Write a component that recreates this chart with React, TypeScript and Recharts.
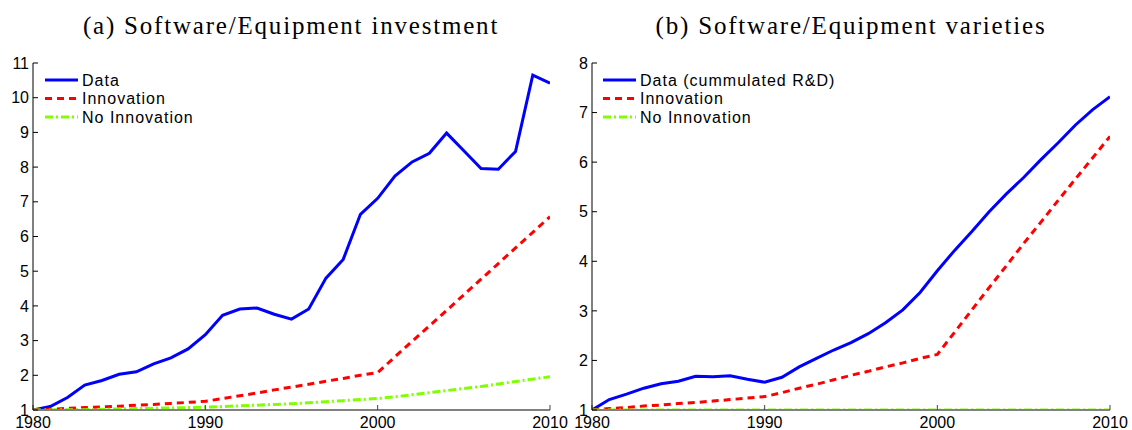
import React from 'react';
import { LineChart, Line, XAxis, YAxis, Legend } from 'recharts';

const years = [
  1980, 1981, 1982, 1983, 1984, 1985, 1986, 1987, 1988, 1989, 1990,
  1991, 1992, 1993, 1994, 1995, 1996, 1997, 1998, 1999, 2000,
  2001, 2002, 2003, 2004, 2005, 2006, 2007, 2008, 2009, 2010,
];

// Panel (a): Software/Equipment investment
const investData = [
  1.0, 1.1, 1.36, 1.72, 1.85, 2.03, 2.1, 2.33, 2.5, 2.76, 3.17,
  3.73, 3.91, 3.94, 3.76, 3.62, 3.91, 4.8, 5.34, 6.64, 7.1,
  7.74, 8.15, 8.4, 8.98, 8.47, 7.96, 7.94, 8.45, 10.65, 10.42,
];
const investInnovation = [
  1.0, 1.02, 1.05, 1.07, 1.09, 1.11, 1.14, 1.16, 1.19, 1.22, 1.25,
  1.33, 1.41, 1.49, 1.58, 1.66, 1.74, 1.83, 1.91, 2.0, 2.08,
  2.53, 2.98, 3.42, 3.87, 4.32, 4.77, 5.22, 5.67, 6.12, 6.57,
];
const investNoInnovation = [
  1.0, 1.0, 1.01, 1.01, 1.02, 1.03, 1.04, 1.05, 1.06, 1.07, 1.08,
  1.1, 1.12, 1.14, 1.16, 1.18, 1.21, 1.24, 1.27, 1.3, 1.33,
  1.38, 1.44, 1.5, 1.56, 1.62, 1.68, 1.75, 1.82, 1.89, 1.96,
];

// Panel (b): Software/Equipment varieties
const varietyData = [
  1.0, 1.21, 1.32, 1.44, 1.53, 1.58, 1.68, 1.67, 1.69, 1.62, 1.56,
  1.66, 1.87, 2.04, 2.21, 2.36, 2.54, 2.76, 3.02, 3.37, 3.81,
  4.22, 4.6, 5.0, 5.36, 5.69, 6.05, 6.39, 6.75, 7.06, 7.32,
];
const varietyInnovation = [
  1.0, 1.03, 1.05, 1.08, 1.1, 1.13, 1.15, 1.18, 1.21, 1.24, 1.27,
  1.35, 1.44, 1.52, 1.61, 1.7, 1.78, 1.87, 1.95, 2.04, 2.12,
  2.57, 3.02, 3.47, 3.91, 4.36, 4.79, 5.23, 5.66, 6.09, 6.52,
];
const varietyNoInnovation = [
  1.0, 1.0, 1.0, 1.0, 1.0, 1.0, 1.0, 1.0, 1.0, 1.0, 1.0,
  1.0, 1.0, 1.0, 1.0, 1.0, 1.0, 1.0, 1.0, 1.0, 1.0,
  1.0, 1.0, 1.0, 1.0, 1.0, 1.0, 1.0, 1.0, 1.0, 1.0,
];

const xTicks = [1980, 1990, 2000, 2010];
const yTicksA = [1, 2, 3, 4, 5, 6, 7, 8, 9, 10, 11];
const yTicksB = [1, 2, 3, 4, 5, 6, 7, 8];

const titleA = '(a) Software/Equipment investment';
const titleB = '(b) Software/Equipment varieties';
const labelsA = ['Data', 'Innovation', 'No Innovation'];
const labelsB = ['Data (cummulated R&D)', 'Innovation', 'No Innovation'];

const seriesKeys = ['data', 'innovation', 'noInnovation'];
const seriesColors = ['#0000ff', '#ff0000', '#7fff00'];
const seriesDashes = [undefined, '7 5', '8 3 2 3'];

const rowsA = years.map((y, i) => ({
  year: y,
  data: investData[i],
  innovation: investInnovation[i],
  noInnovation: investNoInnovation[i],
}));
const rowsB = years.map((y, i) => ({
  year: y,
  data: varietyData[i],
  innovation: varietyInnovation[i],
  noInnovation: varietyNoInnovation[i],
}));

const tickFont = { fill: '#000', fontSize: 16, fontFamily: 'Liberation Sans, Arial, sans-serif' };

const makeLegend = (labels: string[]) => () => (
  <svg width={240} height={60} style={{ display: 'block', overflow: 'visible' }}>
    {labels.map((l, i) => (
      <g key={l}>
        <line
          x1={5}
          x2={38}
          y1={10 + i * 18.5}
          y2={10 + i * 18.5}
          stroke={seriesColors[i]}
          strokeWidth={3}
          strokeDasharray={seriesDashes[i]}
        />
        <text
          x={42}
          y={10 + i * 18.5}
          dy="0.36em"
          fontFamily="Liberation Sans, Arial, sans-serif"
          fontSize={16}
          letterSpacing={1}
          fill="#000"
        >
          {l}
        </text>
      </g>
    ))}
  </svg>
);

type PanelProps = {
  rows: any[];
  width: number;
  yMax: number;
  yTicks: number[];
  labels: string[];
  margin: { top: number; right: number; bottom: number; left: number };
  yWidth: number;
  legendLeft: number;
};

const Panel = ({ rows, width, yMax, yTicks, labels, margin, yWidth, legendLeft }: PanelProps) => (
  <LineChart width={width} height={430} data={rows} margin={margin}>
    <XAxis
      dataKey="year"
      type="number"
      domain={[1980, 2010]}
      ticks={xTicks}
      allowDataOverflow
      height={20}
      tickSize={-5}
      tickMargin={12}
      axisLine={{ stroke: '#808080', strokeWidth: 2 }}
      tickLine={{ stroke: '#444' }}
      tick={tickFont}
      interval={0}
    />
    <YAxis
      type="number"
      domain={[1, yMax]}
      ticks={yTicks}
      allowDataOverflow
      width={yWidth}
      tickSize={-5}
      tickMargin={9}
      axisLine={{ stroke: '#000' }}
      tickLine={{ stroke: '#000' }}
      tick={tickFont}
      interval={0}
    />
    <Legend
      layout="vertical"
      align="center"
      verticalAlign="middle"
      content={makeLegend(labels)}
      wrapperStyle={{ position: 'absolute', left: legendLeft, top: 70, width: 240, height: 60 }}
    />
    {seriesKeys.map((k, i) => (
      <Line
        key={k}
        type="linear"
        dataKey={k}
        name={labels[i]}
        stroke={seriesColors[i]}
        strokeWidth={3}
        strokeDasharray={seriesDashes[i]}
        dot={false}
        activeDot={false}
        isAnimationActive={false}
      />
    ))}
  </LineChart>
);

export default function App() {
  return (
    <div style={{ position: 'absolute', left: 0, top: 0, width: 1132, height: 430, background: '#fff' }}>
      <div style={{ position: 'absolute', left: 0, top: 0 }}>
        <Panel
          rows={rowsA}
          width={580}
          yMax={11}
          yTicks={yTicksA}
          labels={labelsA}
          margin={{ top: 63, right: 30, bottom: 0, left: 8 }}
          yWidth={25}
          legendLeft={40}
        />
      </div>
      <div style={{ position: 'absolute', left: 566, top: 0 }}>
        <Panel
          rows={rowsB}
          width={566}
          yMax={8}
          yTicks={yTicksB}
          labels={labelsB}
          margin={{ top: 63, right: 22, bottom: 0, left: 6 }}
          yWidth={20}
          legendLeft={32}
        />
      </div>
      <svg
        width={1132}
        height={50}
        style={{ position: 'absolute', left: 0, top: 0, pointerEvents: 'none' }}
      >
        <text
          x={291}
          y={34}
          textAnchor="middle"
          fontFamily="Liberation Serif, 'Times New Roman', serif"
          fontSize={25}
          letterSpacing={1.8}
          fill="#000"
        >
          {titleA}
        </text>
        <text
          x={851}
          y={34}
          textAnchor="middle"
          fontFamily="Liberation Serif, 'Times New Roman', serif"
          fontSize={25}
          letterSpacing={1.8}
          fill="#000"
        >
          {titleB}
        </text>
      </svg>
    </div>
  );
}
